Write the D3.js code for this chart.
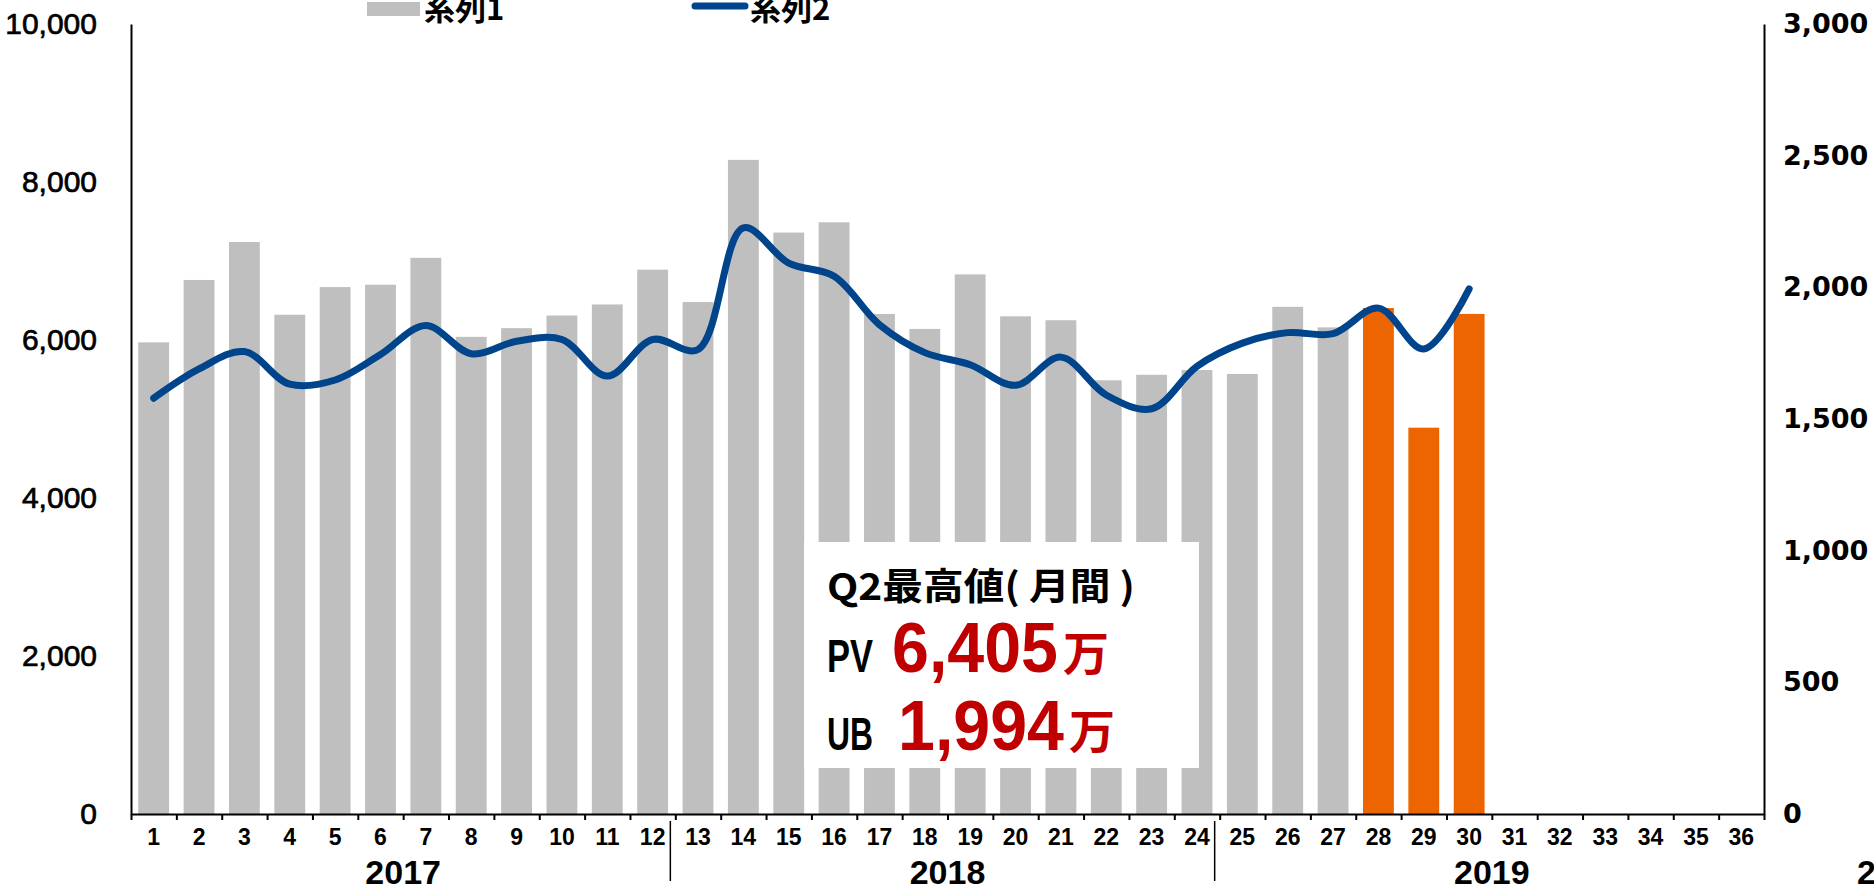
<!DOCTYPE html>
<html>
<head>
<meta charset="utf-8">
<title>PV / UB 月次推移</title>
<script src="https://d3js.org/d3.v7.min.js"></script>
<style>
  body { margin: 0; background: #fff; }
  svg { display: block; }
  text { font-family: "Liberation Sans", Arial, sans-serif; }
</style>
</head>
<body>
<script>
// --- data ---
var months = [1, 2, 3, 4, 5, 6, 7, 8, 9, 10, 11, 12,
              13, 14, 15, 16, 17, 18, 19, 20, 21, 22, 23, 24,
              25, 26, 27, 28, 29, 30, 31, 32, 33, 34, 35, 36];
var years = ["2017", "2018", "2019"];
// 系列1 (bars, left axis)
var pv = [5970, 6760, 7240, 6320, 6670, 6700, 7040, 6040, 6150, 6310, 6450, 6890,
          6480, 8280, 7360, 7490, 6330, 6140, 6830, 6300, 6250, 5490, 5560, 5620,
          5570, 6420, 6160, 6405, 4890, 6330];
// 系列2 (line, right axis)
var ub = [1579, 1690, 1756, 1632, 1648, 1745, 1855, 1748, 1795, 1802, 1663, 1802,
          1764, 2226, 2092, 2042, 1858, 1752, 1706, 1628, 1735, 1591, 1539, 1700,
          1788, 1828, 1824, 1921, 1766, 1994];
var highlight = [28, 29, 30];   // Q2 months drawn in orange
var leftTicks = [0, 2000, 4000, 6000, 8000, 10000];
var rightTicks = [0, 500, 1000, 1500, 2000, 2500, 3000];

var W = 1874, H = 887;
var plot = {left: 131, right: 1764, top: 24, bottom: 814};

var svg = d3.select("body").append("svg")
    .attr("width", W).attr("height", H);

// scales
var x = d3.scaleBand().domain(months)
    .range([plot.left, plot.right])
    .paddingInner(0.32).paddingOuter(0.16);
var xEdge = d3.scaleLinear().domain([0, months.length])
    .range([plot.left, plot.right]);
var yL = d3.scaleLinear().domain([0, 10000]).range([plot.bottom, plot.top]);
var yR = d3.scaleLinear().domain([0, 3000]).range([plot.bottom, plot.top]);

// bars
var barData = pv.map(function(v, i) { return {m: months[i], v: v}; });
svg.append("g").selectAll("rect")
    .data(barData).enter().append("rect")
    .attr("x", function(d) { return x(d.m); })
    .attr("y", function(d) { return yL(d.v); })
    .attr("width", x.bandwidth())
    .attr("height", function(d) { return yL(0) - yL(d.v); })
    .attr("fill", function(d) { return highlight.indexOf(d.m) >= 0 ? "#EC6500" : "#BFBFBF"; });

// line (smoothed like Excel)
var lineData = ub.map(function(v, i) { return {m: months[i], v: v}; });
var line = d3.line()
    .x(function(d) { return x(d.m) + x.bandwidth() / 2; })
    .y(function(d) { return yR(d.v); })
    .curve(d3.curveCatmullRom);
svg.append("path")
    .datum(lineData)
    .attr("d", line)
    .attr("fill", "none")
    .attr("stroke", "#00458C")
    .attr("stroke-width", 7)
    .attr("stroke-linecap", "round")
    .attr("stroke-linejoin", "round");

// callout box
var fmt = d3.format(",");
var q2pv = d3.max(pv.filter(function(v, i) { return highlight.indexOf(months[i]) >= 0; }));
var q2ub = d3.max(ub.filter(function(v, i) { return highlight.indexOf(months[i]) >= 0; }));
var box = svg.append("g");
box.append("rect").attr("x", 804).attr("y", 542).attr("width", 395).attr("height", 226)
    .attr("fill", "#fff");
box.append("text").attr("x", 827).attr("y", 600)
    .style("font-family", "'Noto Sans CJK JP', sans-serif")
    .style("font-weight", "bold").style("font-size", "37px")
    .attr("textLength", 308).attr("lengthAdjust", "spacingAndGlyphs")
    .text("Q2最高値(  月間  )");
var rows = [{label: "PV", val: q2pv, y: 672, vx: 892}, {label: "UB", val: q2ub, y: 750, vx: 898}];
rows.forEach(function(r) {
  box.append("text").attr("x", 827).attr("y", r.y)
      .style("font-weight", "bold").style("font-size", "46px")
      .attr("textLength", 46).attr("lengthAdjust", "spacingAndGlyphs")
      .text(r.label);
  box.append("text").attr("x", r.vx).attr("y", r.y)
      .style("font-weight", "bold").style("font-size", "70px").attr("fill", "#C00000")
      .attr("textLength", 166).attr("lengthAdjust", "spacingAndGlyphs")
      .text(fmt(r.val));
  box.append("text").attr("x", r.vx + 171).attr("y", r.y - 2)
      .style("font-family", "'Noto Sans CJK JP', sans-serif")
      .style("font-weight", "bold").style("font-size", "46px").attr("fill", "#C00000")
      .text("万");
});

// left axis
var gL = svg.append("g").attr("transform", "translate(" + plot.left + ",0)")
    .call(d3.axisLeft(yL).tickValues(leftTicks).tickSize(0).tickSizeOuter(0)
      .tickPadding(34).tickFormat(fmt));
gL.select(".domain").attr("stroke", "#000").attr("stroke-width", 2);
gL.selectAll("text").style("font-size", "30px").style("font-weight", "normal")
    .attr("fill", "#000").attr("stroke", "#000").attr("stroke-width", 0.7)
    .style("font-family", "'Liberation Sans', Arial, sans-serif");

// right axis
var gR = svg.append("g").attr("transform", "translate(" + plot.right + ",0)")
    .call(d3.axisRight(yR).tickValues(rightTicks).tickSize(0).tickSizeOuter(0)
      .tickPadding(19).tickFormat(fmt));
gR.select(".domain").attr("stroke", "#000").attr("stroke-width", 2);
gR.selectAll("text").style("font-size", "27px").style("font-weight", "bold")
    .attr("fill", "#000").style("font-family", "'DejaVu Sans', sans-serif");

// bottom axis: ticks between categories
var gB = svg.append("g").attr("transform", "translate(0," + plot.bottom + ")")
    .call(d3.axisBottom(xEdge).tickValues(d3.range(0, months.length + 1))
      .tickSize(6).tickSizeOuter(0).tickFormat(""));
gB.select(".domain").attr("stroke", "#000").attr("stroke-width", 2);
gB.selectAll(".tick line").attr("stroke", "#000").attr("stroke-width", 2);

// month labels
var gM = svg.append("g").attr("transform", "translate(0," + plot.bottom + ")")
    .call(d3.axisBottom(x).tickSize(0).tickPadding(15));
gM.select(".domain").remove();
gM.selectAll("text").style("font-size", "23px").style("font-weight", "bold")
    .attr("fill", "#000").style("font-family", "'Liberation Sans', Arial, sans-serif");

// year labels and separators
years.forEach(function(yr, i) {
  svg.append("text")
      .attr("x", (xEdge(i * 12) + xEdge(i * 12 + 12)) / 2)
      .attr("y", 884)
      .attr("text-anchor", "middle")
      .style("font-size", "34px").style("font-weight", "bold")
      .text(yr);
  if (i > 0) {
    svg.append("line")
        .attr("x1", xEdge(i * 12) - 5).attr("x2", xEdge(i * 12) - 5)
        .attr("y1", 821).attr("y2", 881)
        .attr("stroke", "#000").attr("stroke-width", 1.5);
  }
});
svg.append("text").attr("x", 1857).attr("y", 884)
    .style("font-size", "34px").style("font-weight", "bold").text("2");

// legend (cut at the top edge)
var lg = svg.append("g");
lg.append("rect").attr("x", 367).attr("y", 2).attr("width", 53).attr("height", 14)
    .attr("fill", "#BFBFBF");
lg.append("text").attr("x", 424).attr("y", 20)
    .style("font-family", "'Noto Sans CJK JP', sans-serif")
    .style("font-weight", "bold").style("font-size", "31px")
    .text("系列1");
lg.append("line").attr("x1", 695).attr("x2", 745).attr("y1", 6).attr("y2", 6)
    .attr("stroke", "#00458C").attr("stroke-width", 7).attr("stroke-linecap", "round");
lg.append("text").attr("x", 750).attr("y", 20)
    .style("font-family", "'Noto Sans CJK JP', sans-serif")
    .style("font-weight", "bold").style("font-size", "31px")
    .text("系列2");
</script>
</body>
</html>
